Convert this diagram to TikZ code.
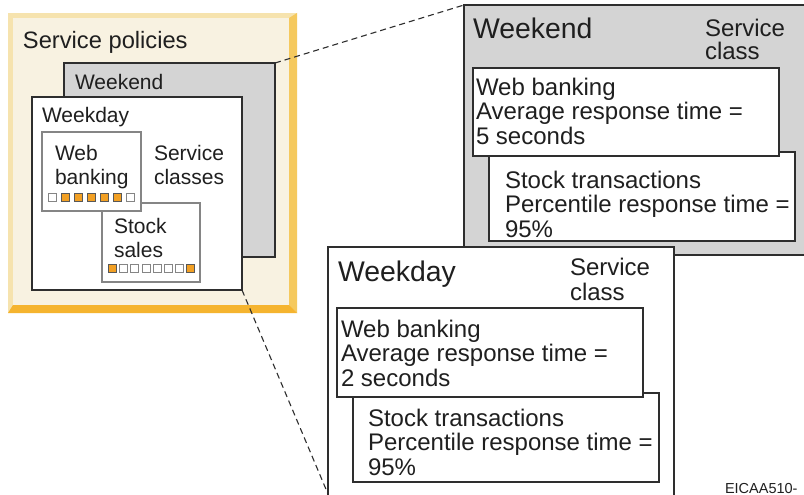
\documentclass[tikz,border=0pt]{standalone}
\usepackage{fontspec}
\setmainfont{Liberation Sans}
\definecolor{cream}{HTML}{F8F2E1}
\definecolor{bevellight}{HTML}{F6E3AE}
\definecolor{bevelright}{HTML}{F5C95E}
\definecolor{bevelbottom}{HTML}{F5B42F}
\definecolor{panelgray}{HTML}{D4D4D4}
\definecolor{edge}{HTML}{2E2E2E}
\definecolor{softedge}{HTML}{858585}
\definecolor{slot}{HTML}{F2A024}
% multi-line labels are placed by the baseline of their last line
\tikzset{
  frame/.style={draw=edge, line width=1.6pt, inner sep=0pt, outer sep=0pt, anchor=north west},
  softframe/.style={draw=softedge, line width=1.6pt, fill=white, inner sep=0pt, outer sep=0pt, anchor=north west},
  txt/.style={anchor=base west, inner sep=0pt, outer sep=0pt, text=black!88},
  smalltxt/.style={txt, font=\fontsize{21}{23.5}\selectfont, align=left},
  bigtxt/.style={txt, font=\fontsize{24}{24.5}\selectfont, align=left},
  fullslot/.style={draw=edge!80, line width=0.8pt, fill=slot, minimum size=8pt, inner sep=0pt, anchor=north west},
  emptyslot/.style={draw=softedge, line width=0.8pt, fill=white, minimum size=8pt, inner sep=0pt, anchor=north west},
  zoomline/.style={draw=edge, line width=1.1pt, dash pattern=on 6pt off 4pt}
}
\begin{document}
\begin{tikzpicture}[x=1pt, y=-1pt]
\clip (0,0) rectangle (804,495);
\fill[white] (0,0) rectangle (804,495);

% bevelled "Service policies" panel
\fill[bevellight] (8,13) rectangle (297,313);
\fill[bevelright] (297,13) -- (297,313) -- (289,305) -- (289,18) -- cycle;
\fill[bevelbottom] (8,313) -- (297,313) -- (289,305) -- (13,305) -- cycle;
\fill[cream] (13,18) rectangle (289,305);
\node[txt, font=\fontsize{23.7}{26}\selectfont] (policies) at (23,49) {Service policies};

% overview: weekend and weekday policies
\node[frame, fill=panelgray, minimum width=211pt, minimum height=194pt] (wendS) at (64,63) {};
\node[txt, font=\fontsize{21}{23.5}\selectfont] (wendSt) at (75,90) {Weekend};
\node[frame, fill=white, minimum width=210pt, minimum height=193pt] (wdayS) at (32,97) {};
\node[txt, font=\fontsize{21}{23.5}\selectfont] (wdaySt) at (42,123) {Weekday};
\node[smalltxt] (classes) at (154,184) {Service\\classes};

% stock sales class with its slot row
\node[softframe, minimum width=98pt, minimum height=79pt] (stockS) at (102,203) {};
\node[smalltxt] (stockSt) at (114,257) {Stock\\sales};
\foreach \i/\s in {0/fullslot,1/emptyslot,2/emptyslot,3/emptyslot,4/emptyslot,5/emptyslot,6/emptyslot,7/fullslot}
  \node[\s] (ss\i) at ({108+11.2*\i},264) {};

% web banking class with its slot row
\node[softframe, minimum width=99pt, minimum height=79pt] (webS) at (42,132) {};
\node[smalltxt] (webSt) at (55,184) {Web\\banking};
\foreach \i/\s in {0/emptyslot,1/fullslot,2/fullslot,3/fullslot,4/fullslot,5/fullslot,6/emptyslot}
  \node[\s] (ws\i) at ({48+13*\i},193) {};

% weekend detail
\node[frame, fill=panelgray, minimum width=360pt, minimum height=250pt] (wendB) at (464,5) {};
\node[txt, font=\fontsize{28.4}{30}\selectfont] (wendBt) at (473,39) {Weekend};
\node[bigtxt, font=\fontsize{24}{23.5}\selectfont] (wendBc) at (705,60) {Service\\class};
\node[frame, fill=white, minimum width=306pt, minimum height=89pt] (wendStock) at (489,152) {};
\node[bigtxt] (wendStockt) at (505,237) {Stock transactions\\Percentile response time =\\95\%};
\node[frame, fill=white, minimum width=306pt, minimum height=88pt] (wendWeb) at (473,68) {};
\node[bigtxt] (wendWebt) at (476,144) {Web banking\\Average response time =\\5 seconds};

% weekday detail
\node[frame, fill=white, minimum width=346pt, minimum height=270pt] (wdayB) at (328,247) {};
\node[txt, font=\fontsize{28.4}{30}\selectfont] (wdayBt) at (338,281) {Weekday};
\node[bigtxt, font=\fontsize{24}{25}\selectfont] (wdayBc) at (570,300) {Service\\class};
\node[frame, fill=white, minimum width=306pt, minimum height=89pt] (wdayStock) at (353,393) {};
\node[bigtxt] (wdayStockt) at (368,475) {Stock transactions\\Percentile response time =\\95\%};
\node[frame, fill=white, minimum width=306pt, minimum height=89pt] (wdayWeb) at (337,308) {};
\node[bigtxt] (wdayWebt) at (341,386) {Web banking\\Average response time =\\2 seconds};

% zoom connectors
\coordinate (wdayFoot) at (328,494);
\draw[zoomline] (wendS.north east) -- (wendB.north west);
\draw[zoomline] (wdayS.south east) -- (wdayFoot);

\node[txt, font=\fontsize{14.5}{16}\selectfont] (figid) at (725,493) {EICAA510-};
\end{tikzpicture}
\end{document}
